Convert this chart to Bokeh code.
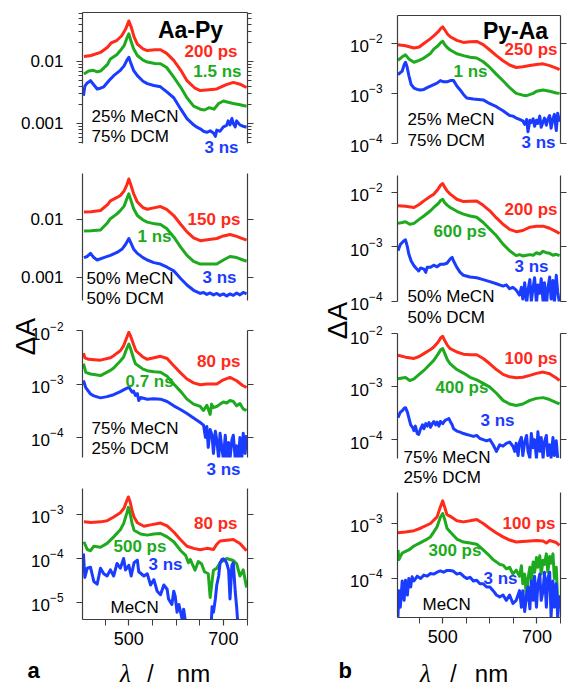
import math
from bokeh.plotting import figure
from bokeh.models import (Range1d, FixedTicker, LogAxis, LinearAxis, Label,
                          CustomJSTickFormatter, GridBox, Spacer)
from bokeh.layouts import row, column
from bokeh.embed import file_html
from bokeh.resources import INLINE

# ---------------- data: (wavelength nm, delta A) ----------------
# Aa-Py, 25% MeCN / 75% DCM
a1_200ps = [(405,0.012),(420,0.0125),(440,0.014),(455,0.017),(463,0.020),(475,0.022),(485,0.026),(493,0.033),(500,0.045),(505,0.036),(511,0.025),(518,0.019),(530,0.016),(539,0.015),(555,0.0155),(567,0.0155),(580,0.0135),(595,0.0104),(610,0.0072),(623,0.0049),(640,0.0037),(651,0.0034),(670,0.0035),(686,0.0036),(705,0.0042),(721,0.0046),(735,0.0043),(749,0.0038)]
a1_1p5ns = [(405,0.0063),(415,0.0070),(425,0.0072),(433,0.0068),(440,0.0070),(455,0.0090),(461,0.011),(475,0.013),(482,0.015),(490,0.018),(496,0.024),(500,0.028),(504,0.022),(510,0.016),(518,0.0125),(530,0.0105),(539,0.0098),(555,0.0093),(567,0.0092),(580,0.0080),(595,0.0056),(610,0.0038),(623,0.0026),(637,0.0019),(651,0.0017),(660,0.00165),(670,0.0018),(680,0.0017),(690,0.0021),(700,0.0023),(710,0.0022),(721,0.0021),(735,0.0020),(749,0.0019)]
a1_3ns = [(404,0.0028),(407,0.0040),(412,0.0045),(419,0.0049),(425,0.0043),(433,0.0036),(440,0.0037),(447,0.0039),(461,0.0052),(468,0.0059),(482,0.0072),(490,0.0085),(496,0.0105),(500,0.0117),(504,0.0095),(510,0.0072),(518,0.0059),(530,0.0048),(539,0.0044),(553,0.0041),(567,0.0039),(581,0.0032),(595,0.0026),(610,0.0017),(623,0.0012),(637,0.00095),(644,0.00087),(651,0.00082),(658,0.00075),(665,0.00072),(672,0.00076),(679,0.00070),(683,0.00062),(686,0.00078),(693,0.00075),(700,0.00088),(707,0.00093),(710,0.0011),(714,0.00095),(718,0.0012),(721,0.0010),(725,0.00088),(728,0.0011),(735,0.00095),(742,0.00090),(749,0.00087)]
# Aa-Py, 50% MeCN / 50% DCM
a2_150ps = [(405,0.0134),(420,0.0136),(440,0.0143),(455,0.018),(461,0.021),(475,0.024),(482,0.026),(490,0.031),(496,0.040),(500,0.050),(504,0.040),(510,0.028),(518,0.020),(530,0.016),(539,0.015),(555,0.016),(567,0.0167),(580,0.015),(595,0.0117),(610,0.0082),(623,0.0061),(637,0.0048),(651,0.0043),(670,0.0045),(686,0.0047),(700,0.0052),(714,0.0055),(728,0.0051),(749,0.0044)]
a2_1ns = [(405,0.0063),(420,0.0064),(440,0.0066),(455,0.0088),(461,0.0103),(475,0.0125),(482,0.0142),(490,0.017),(496,0.023),(500,0.0276),(504,0.022),(510,0.0155),(518,0.0117),(530,0.0098),(539,0.0090),(555,0.0084),(567,0.0082),(580,0.0070),(595,0.0050),(610,0.0033),(623,0.0024),(637,0.0019),(651,0.0017),(670,0.0017),(686,0.0017),(700,0.0020),(714,0.0023),(728,0.0022),(749,0.0019)]
a2_3ns = [(405,0.0022),(412,0.0023),(419,0.0026),(426,0.0022),(433,0.0020),(447,0.0022),(461,0.0024),(475,0.0027),(486,0.0031),(493,0.0037),(500,0.0047),(504,0.0040),(510,0.0031),(518,0.0026),(530,0.0022),(539,0.0020),(553,0.0018),(567,0.0017),(581,0.0015),(595,0.0013),(610,0.00095),(623,0.00074),(637,0.00060),(651,0.00053),(658,0.00055),(665,0.00051),(672,0.00054),(679,0.00050),(686,0.00053),(693,0.00049),(700,0.00052),(707,0.00048),(714,0.00052),(721,0.00049),(728,0.00054),(735,0.00050),(742,0.00055),(749,0.00052)]
# Aa-Py, 75% MeCN / 25% DCM
a3_80ps = [(404,0.0038),(407,0.0031),(415,0.0029),(440,0.0028),(461,0.0031),(468,0.0034),(482,0.0042),(489,0.0052),(495,0.0072),(500,0.0093),(504,0.0078),(510,0.0055),(515,0.0042),(530,0.0032),(539,0.0029),(553,0.0031),(567,0.0033),(581,0.0030),(595,0.0022),(610,0.0016),(623,0.00124),(637,0.00105),(651,0.00097),(665,0.0010),(686,0.0010),(700,0.0012),(714,0.00133),(728,0.00115),(740,0.00095),(749,0.00086)]
a3_0p7ns = [(404,0.0024),(409,0.00165),(419,0.00154),(440,0.00144),(461,0.0018),(468,0.0020),(482,0.0027),(489,0.0032),(495,0.0045),(500,0.0056),(504,0.0045),(510,0.0030),(514,0.0024),(530,0.0019),(539,0.00178),(553,0.0017),(567,0.00166),(581,0.0014),(595,0.0010),(610,0.00072),(623,0.00052),(637,0.00042),(651,0.00038),(658,0.00032),(665,0.00040),(672,0.00027),(675,0.00042),(679,0.00036),(686,0.00038),(693,0.00042),(700,0.00046),(707,0.00044),(714,0.00049),(721,0.00047),(728,0.00039),(735,0.00043),(742,0.00034),(749,0.00032)]
a3_3ns = [(404,0.00116),(409,0.00085),(419,0.00065),(426,0.00060),(440,0.00055),(454,0.00058),(468,0.00063),(482,0.00072),(493,0.00081),(500,0.00087),(503,0.00080),(507,0.00070),(510,0.00074),(514,0.00061),(518,0.00066),(521,0.00049),(525,0.00056),(539,0.00052),(553,0.00053),(567,0.00052),(581,0.00047),(595,0.00039),(610,0.00033),(623,0.00028),(637,0.00023),(651,0.00019),(658,0.00017),(662,0.00010),(665,0.00016),(668,0.000065),(672,0.00014),(676,0.00011),(679,0.00005),(683,0.00013),(686,0.00009),(690,0.00004),(693,0.00012),(697,0.00006),(700,0.00004),(704,0.00011),(707,0.00004),(711,0.00008),(714,0.00004),(718,0.00009),(721,0.00011),(725,0.00004),(728,0.00007),(732,0.00004),(735,0.00010),(739,0.00004),(742,0.00012),(746,0.00005),(749,0.00011)]
# Aa-Py, MeCN
a4_80ps = [(405,0.00068),(420,0.00066),(440,0.00068),(454,0.00072),(468,0.00088),(482,0.0011),(490,0.0014),(496,0.0021),(499,0.0025),(503,0.0019),(507,0.0012),(511,0.00088),(518,0.00065),(532,0.00054),(546,0.00058),(567,0.00064),(581,0.00055),(595,0.00040),(609,0.00027),(623,0.00019),(637,0.00017),(651,0.000158),(665,0.00017),(679,0.00016),(686,0.00021),(693,0.00025),(707,0.00026),(721,0.00027),(735,0.00022),(749,0.00015)]
a4_500ps = [(405,0.00024),(412,0.00016),(419,0.00015),(426,0.00019),(440,0.00018),(454,0.00022),(468,0.00031),(482,0.00045),(489,0.00062),(496,0.0011),(499,0.00145),(503,0.0010),(507,0.00062),(511,0.00044),(525,0.00036),(539,0.00034),(553,0.00036),(567,0.00037),(581,0.00031),(595,0.00024),(610,0.00015),(620,0.000118),(626,0.00008),(630,0.000095),(640,0.000054),(647,0.000085),(654,0.000075),(660,0.00005),(668,0.000045),(672,0.000013),(676,0.00003),(679,0.000054),(686,0.00006),(693,0.00008),(700,0.00009),(707,0.0001),(714,0.000095),(721,0.00009),(728,0.000076),(735,0.00004),(742,0.000055),(749,0.000022)]
a4_3ns = [(404,0.00013),(407,0.000037),(412,0.00006),(419,0.000063),(426,0.00003),(433,0.000026),(440,0.00006),(447,0.000045),(454,0.00004),(461,0.000055),(468,0.00004),(475,0.000077),(482,0.00006),(489,0.0001),(493,0.000055),(500,0.00007),(505,0.00004),(511,0.00008),(518,0.000092),(521,0.00005),(532,0.00004),(539,0.000045),(546,0.000025),(553,0.000033),(560,0.000018),(567,0.000015),(574,0.000025),(581,0.00002),(584,0.000012),(591,0.000009),(595,0.000018),(598,0.000014),(602,0.000006),(606,0.000009),(613,0.000004),(616,0.000007),(620,0.0000035),(624,0.000002),(640,0.000001),(660,0.000001),(672,0.000001),(676,0.000008),(679,0.000006),(683,0.000012),(686,0.000025),(690,0.00004),(693,0.00008),(697,0.000095),(700,0.000098),(704,0.00009),(707,0.000078),(711,0.000055),(714,0.000012),(718,0.00007),(721,0.00008),(725,0.000018),(728,0.000008),(732,0.000002)]
# Py-Aa, 25% MeCN / 75% DCM
b1_250ps = [(405,0.0094),(421,0.0090),(439,0.0081),(450,0.0085),(460,0.010),(474,0.0125),(481,0.0142),(490,0.017),(496,0.020),(500,0.0215),(504,0.019),(510,0.0155),(516,0.0136),(530,0.0115),(544,0.0105),(558,0.0108),(572,0.0110),(586,0.0095),(600,0.0074),(614,0.0057),(628,0.0045),(642,0.0037),(656,0.0033),(670,0.0034),(685,0.0036),(699,0.0038),(713,0.0039),(727,0.0036),(741,0.0032),(748,0.0030)]
b1_1ns = [(405,0.0046),(414,0.0054),(421,0.0059),(428,0.0049),(439,0.0042),(450,0.0046),(460,0.0051),(474,0.0063),(481,0.0077),(490,0.0090),(496,0.0105),(500,0.011),(504,0.0095),(510,0.0082),(516,0.0074),(530,0.0062),(544,0.0057),(558,0.0053),(572,0.0051),(586,0.0043),(600,0.0033),(614,0.0024),(628,0.00179),(642,0.0013),(656,0.0010),(670,0.00092),(678,0.00090),(692,0.0010),(699,0.0011),(713,0.00117),(727,0.0011),(741,0.00102),(748,0.0010)]
b1_3ns = [(405,0.00237),(410,0.0026),(414,0.0028),(418,0.0037),(421,0.0042),(424,0.0035),(428,0.0023),(433,0.0015),(439,0.00128),(446,0.0012),(453,0.00117),(460,0.0012),(467,0.0013),(474,0.0014),(481,0.0015),(488,0.0016),(495,0.0018),(502,0.0017),(509,0.0017),(516,0.0018),(523,0.0018),(530,0.0014),(537,0.00117),(544,0.00095),(551,0.00081),(565,0.00077),(586,0.00074),(600,0.00062),(614,0.00054),(628,0.00045),(642,0.00036),(649,0.00035),(656,0.00032),(663,0.00030),(670,0.00028),(674,0.00024),(678,0.00030),(681,0.00017),(685,0.00029),(688,0.00026),(692,0.00031),(695,0.00022),(699,0.00029),(702,0.00025),(706,0.00035),(709,0.00021),(713,0.00027),(716,0.00032),(720,0.00023),(723,0.00030),(727,0.00036),(730,0.00020),(734,0.00031),(737,0.00038),(741,0.00018),(744,0.00040),(748,0.00027)]
# Py-Aa, 50% MeCN / 50% DCM
b2_200ps = [(405,0.0057),(421,0.0056),(439,0.0053),(450,0.0060),(460,0.0070),(474,0.0085),(481,0.0093),(490,0.0115),(496,0.0138),(500,0.0146),(504,0.0125),(510,0.0105),(516,0.0093),(530,0.0075),(544,0.0068),(558,0.0069),(572,0.0070),(586,0.0058),(600,0.0046),(614,0.0034),(628,0.0026),(642,0.0021),(656,0.0019),(670,0.0020),(685,0.0023),(699,0.0024),(713,0.0024),(727,0.0022),(741,0.0019),(748,0.00176)]
b2_600ps = [(405,0.0027),(414,0.0028),(421,0.0029),(430,0.0026),(439,0.0027),(450,0.0032),(460,0.0037),(474,0.0046),(481,0.0053),(490,0.0062),(496,0.0072),(500,0.0075),(504,0.0065),(510,0.0058),(516,0.0053),(530,0.0045),(544,0.0040),(558,0.0037),(572,0.0035),(586,0.0028),(600,0.00212),(614,0.0016),(628,0.00112),(642,0.00085),(656,0.00069),(663,0.00072),(670,0.00068),(678,0.00070),(685,0.00072),(692,0.00070),(699,0.00078),(706,0.00074),(713,0.00083),(720,0.00078),(727,0.00076),(734,0.00070),(741,0.00073),(748,0.00069)]
b2_3ns = [(405,0.00085),(410,0.0011),(414,0.0012),(418,0.0013),(421,0.00135),(425,0.0010),(428,0.00074),(433,0.00055),(439,0.00045),(444,0.00040),(449,0.00036),(453,0.00041),(460,0.00039),(464,0.00034),(467,0.00042),(474,0.00042),(481,0.00046),(488,0.00043),(495,0.00048),(502,0.00048),(509,0.00050),(516,0.00060),(520,0.00064),(523,0.00055),(530,0.00042),(537,0.00034),(544,0.00030),(558,0.00028),(572,0.00027),(586,0.00025),(600,0.00023),(614,0.00021),(628,0.00019),(635,0.00020),(642,0.00017),(649,0.00018),(656,0.00016),(663,0.00013),(667,0.00018),(670,0.00011),(674,0.00022),(678,0.00009),(681,0.00016),(685,0.00025),(688,0.00010),(692,0.00018),(695,0.00027),(699,0.00009),(702,0.00020),(706,0.00014),(709,0.00026),(713,0.00010),(716,0.00022),(720,0.00008),(723,0.00017),(727,0.00028),(730,0.00011),(734,0.00024),(737,0.00009),(741,0.00030),(744,0.00015),(748,0.00009)]
# Py-Aa, 75% MeCN / 25% DCM
b3_100ps = [(405,0.0039),(421,0.0036),(439,0.0034),(450,0.0037),(460,0.0042),(474,0.0050),(481,0.0056),(490,0.0069),(496,0.0084),(500,0.0089),(504,0.0075),(510,0.0060),(516,0.0052),(530,0.0045),(544,0.0041),(558,0.0040),(572,0.0040),(586,0.0034),(600,0.0027),(614,0.0021),(628,0.00170),(642,0.00153),(656,0.00147),(670,0.00150),(685,0.00163),(699,0.00178),(713,0.00188),(727,0.00175),(741,0.00145),(748,0.00131)]
b3_400ps = [(405,0.00141),(414,0.00146),(421,0.00148),(430,0.0013),(439,0.0014),(450,0.0017),(460,0.00202),(474,0.0027),(481,0.00313),(490,0.0041),(496,0.0050),(500,0.0052),(504,0.0043),(510,0.0032),(516,0.0027),(530,0.0021),(544,0.0018),(558,0.0015),(572,0.00134),(586,0.00115),(600,0.00098),(614,0.00075),(628,0.00055),(642,0.00047),(656,0.00044),(670,0.00047),(685,0.00055),(699,0.00060),(713,0.00062),(727,0.00057),(741,0.00050),(748,0.00047)]
b3_3ns = [(405,0.00026),(410,0.00033),(414,0.00035),(418,0.00039),(421,0.00040),(425,0.00033),(428,0.00026),(432,0.00019),(436,0.00017),(439,0.000148),(442,0.00018),(446,0.00013),(449,0.000125),(453,0.00016),(457,0.00019),(460,0.00016),(464,0.00020),(467,0.00018),(471,0.00021),(474,0.00017),(478,0.00020),(481,0.00022),(485,0.00019),(488,0.000214),(492,0.00018),(495,0.00022),(500,0.00020),(505,0.00023),(509,0.00024),(513,0.00025),(516,0.00022),(520,0.00019),(523,0.00016),(530,0.000145),(537,0.000138),(544,0.00013),(551,0.000125),(558,0.00012),(565,0.000115),(572,0.00012),(579,0.000105),(586,0.0001),(593,0.000095),(600,0.0001),(607,0.00008),(614,0.00006),(621,0.00008),(628,0.000075),(635,0.000085),(642,0.00009),(649,0.000075),(653,0.00006),(656,0.000085),(660,0.00005),(663,0.00009),(667,0.00011),(670,0.00005),(674,0.00009),(678,0.00012),(681,0.00006),(685,0.000045),(688,0.00013),(692,0.00007),(695,0.00010),(699,0.000045),(702,0.00014),(706,0.00006),(709,0.00011),(713,0.000045),(716,0.00009),(720,0.00012),(723,0.00005),(727,0.00008),(730,0.000045),(734,0.00011),(737,0.00005),(741,0.000095),(744,0.000045)]
# Py-Aa, MeCN
b4_100ps = [(405,0.00068),(421,0.00070),(439,0.00074),(453,0.00082),(474,0.0010),(488,0.00132),(495,0.0020),(500,0.00258),(504,0.0020),(509,0.00145),(516,0.00135),(530,0.00112),(544,0.00107),(558,0.00112),(572,0.00118),(586,0.00100),(600,0.00081),(614,0.00067),(628,0.00057),(642,0.00050),(656,0.00046),(670,0.00047),(685,0.00048),(699,0.00049),(713,0.00048),(720,0.00044),(727,0.00049),(734,0.00047),(741,0.00045),(748,0.00040)]
b4_300ps = [(405,0.00033),(407,0.00022),(410,0.00025),(414,0.00029),(421,0.00031),(428,0.00033),(439,0.00039),(453,0.00045),(467,0.00052),(474,0.00057),(488,0.00087),(495,0.0013),(500,0.00152),(504,0.0012),(509,0.00082),(516,0.00070),(530,0.00052),(544,0.00046),(558,0.00044),(572,0.00042),(586,0.00033),(600,0.000254),(607,0.00022),(614,0.0002),(621,0.00018),(628,0.000175),(635,0.00015),(642,0.00016),(649,0.00012),(656,0.000142),(663,0.00011),(667,0.00017),(670,0.00008),(674,0.00012),(678,0.00004),(681,0.00010),(685,0.00016),(688,0.00009),(692,0.00020),(695,0.00013),(699,0.00024),(702,0.00016),(706,0.00026),(709,0.00012),(713,0.000215),(716,0.00018),(720,0.00028),(723,0.00013),(727,0.00025),(730,0.00019),(734,0.00028),(737,0.00010),(741,0.00016),(744,0.00004),(748,0.000035)]
b4_3ns = [(405,0.00002),(407,0.00006),(410,0.00003),(414,0.00009),(418,0.00004),(421,0.000093),(425,0.00005),(428,0.0001),(432,0.00007),(435,0.000107),(439,0.00009),(446,0.00011),(453,0.0001),(460,0.000115),(467,0.00011),(474,0.000123),(481,0.00012),(488,0.00013),(495,0.000137),(502,0.00013),(509,0.00014),(516,0.00014),(523,0.000135),(530,0.00012),(537,0.000125),(544,0.00011),(551,0.0001),(558,0.000105),(565,0.00009),(572,0.000093),(579,0.00008),(586,0.00008),(593,0.00007),(600,0.00007),(607,0.00006),(614,0.00005),(621,0.000046),(628,0.00005),(635,0.00004),(642,0.00005),(649,0.000035),(656,0.00004),(663,0.00006),(667,0.00003),(670,0.00006),(674,0.000025),(678,0.00005),(681,0.00007),(685,0.000028),(688,0.00009),(692,0.00004),(695,0.00011),(699,0.00003),(702,0.00008),(706,0.00012),(709,0.00004),(713,0.00006),(716,0.00013),(720,0.00003),(723,0.00010),(727,0.00013),(730,0.00002),(734,0.00009),(737,0.00003),(741,0.00008),(744,0.00002),(748,0.00005)]

# tick values
x_major = [500, 700]
x_minor = [450, 550, 600, 650, 750]
y_ticks_a12 = [0.001, 0.01]
y_ticks_a3 = [1e-4, 1e-3, 1e-2]
y_ticks_a4 = [1e-5, 1e-4, 1e-3]
y_ticks_b123 = [1e-4, 1e-3, 1e-2]
y_ticks_b4 = [1e-4, 1e-3]
y_minor_a1 = [m * 10.0 ** e for e in (-4, -3, -2) for m in range(2, 10)]

# ---------------- style ----------------
FONT = "Liberation Sans"
RED, GREEN, BLUE = "#ff2a1a", "#1eaa1e", "#1a3cff"
AXC = "#3c3c3c"
LW = 3.0
W, H = 568, 688


def style_axis(ax, size="17px", standoff=12):
    ax.axis_line_color = AXC
    ax.axis_line_width = 1.2
    ax.major_tick_line_color = AXC
    ax.minor_tick_line_color = AXC
    ax.major_tick_line_width = 1.2
    ax.minor_tick_line_width = 1.0
    ax.major_tick_in = 0
    ax.major_tick_out = 6
    ax.minor_tick_in = 0
    ax.minor_tick_out = 4
    ax.major_label_text_font = FONT
    ax.major_label_text_font_size = size
    ax.major_label_text_color = "black"
    ax.major_label_standoff = standoff


def panel(width, height, borders, xr, yr, ticks, minor=None, plain=False,
          bottom=False, top_line=False, standoff=12):
    bl, br, bt, bb = borders
    p = figure(width=width, height=height, y_axis_type="log",
               x_range=Range1d(*xr), y_range=Range1d(*yr),
               x_axis_location="below" if bottom else None,
               output_backend="svg", toolbar_location=None,
               min_border_left=bl, min_border_right=br,
               min_border_top=bt, min_border_bottom=bb)
    p.outline_line_color = None
    p.xgrid.visible = False
    p.ygrid.visible = False
    ya = p.yaxis[0]
    ya.ticker = FixedTicker(ticks=ticks, minor_ticks=minor or [])
    if plain:
        ya.formatter = CustomJSTickFormatter(code="return String(tick)")
    style_axis(ya, standoff=standoff)
    ra = LogAxis(ticker=FixedTicker(ticks=ticks, minor_ticks=minor or []),
                 formatter=CustomJSTickFormatter(code="return ''"))
    style_axis(ra, standoff=0)
    p.add_layout(ra, "right")
    if bottom:
        xa = p.xaxis[0]
        xa.ticker = FixedTicker(ticks=x_major, minor_ticks=x_minor)
        style_axis(xa, size="18px", standoff=6)
        xa.minor_tick_out = 6
    if top_line:
        ta = LinearAxis(ticker=FixedTicker(ticks=[]))
        style_axis(ta, size="0px", standoff=0)
        ta.major_tick_out = 0
        ta.minor_tick_out = 0
        p.add_layout(ta, "above")
    return p


def curves(p, series):
    for data, color in series:
        wl = [d[0] for d in data]
        da = [d[1] for d in data]
        p.line(wl, da, line_color=color, line_width=LW, line_join="round")


# transparent overlay that carries all the texts (page pixel positions)
T = figure(width=W, height=H, x_range=Range1d(0, W), y_range=Range1d(0, H),
           x_axis_location=None, y_axis_location=None,
           output_backend="svg", toolbar_location=None,
           min_border_left=0, min_border_right=0, min_border_top=0, min_border_bottom=0,
           background_fill_color=None, border_fill_color=None)
T.outline_line_color = None
T.xgrid.visible = False
T.ygrid.visible = False


def lab(x, y, text, color="black", size="17px", bold=False, align="left",
        baseline="middle", font=FONT, angle=0.0, italic=False):
    fs = "bold" if bold else ("italic" if italic else "normal")
    T.add_layout(Label(x=x, y=H - y, x_units="screen", y_units="screen",
                       text=text, text_color=color, text_font=font,
                       text_font_size=size, text_font_style=fs,
                       text_align=align, text_baseline=baseline,
                       angle=angle, angle_units="rad"))


XA = (402, 751)
XB = (404, 750)

# ---------------- left column (Aa-Py) ----------------
A1 = panel(260, 158, (82, 13, 12, 15), XA, (4.75e-4, 0.0617), y_ticks_a12,
           minor=y_minor_a1, plain=True, top_line=True, standoff=13)
curves(A1, [(a1_200ps, RED), (a1_1p5ns, GREEN), (a1_3ns, BLUE)])
lab(190, 29, "Aa-Py", size="23px", bold=True, align="center")
lab(237, 51, "200 ps", RED, bold=True, align="right")
lab(241, 71, "1.5 ns", GREEN, bold=True, align="right")
lab(238, 147, "3 ns", BLUE, bold=True, align="right")
lab(91, 116, "25% MeCN")
lab(91, 136, "75% DCM")

A2 = panel(260, 150, (82, 13, 15, 8), XA, (4.0e-4, 0.0621), y_ticks_a12,
           plain=True, standoff=13)
curves(A2, [(a2_150ps, RED), (a2_1ns, GREEN), (a2_3ns, BLUE)])
lab(240, 219, "150 ps", RED, bold=True, align="right")
lab(137, 236, "1 ns", GREEN, bold=True)
lab(236, 277, "3 ns", BLUE, bold=True, align="right")
lab(86, 278, "50% MeCN")
lab(86, 298, "50% DCM")

A3 = panel(260, 174, (82, 13, 22, 25), XA, (4.2e-5, 1.006e-2), y_ticks_a3,
           standoff=13)
curves(A3, [(a3_80ps, RED), (a3_0p7ns, GREEN), (a3_3ns, BLUE)])
lab(240, 361, "80 ps", RED, bold=True, align="right")
lab(125, 381, "0.7 ns", GREEN, bold=True)
lab(240, 469, "3 ns", BLUE, bold=True, align="right")
lab(91, 428, "75% MeCN")
lab(91, 448, "25% DCM")
lab(25, 336, "ΔA", size="28px", align="center", angle=math.pi / 2)

A4 = panel(260, 206, (82, 13, 6, 69), XA, (4.1e-6, 3.9e-3), y_ticks_a4,
           bottom=True, standoff=13)
curves(A4, [(a4_80ps, RED), (a4_500ps, GREEN), (a4_3ns, BLUE)])
lab(237, 523, "80 ps", RED, bold=True, align="right")
lab(113, 546, "500 ps", GREEN, bold=True)
lab(148, 564, "3 ns", BLUE, bold=True)
lab(110, 607, "MeCN")
lab(27, 670, "a", size="22px", bold=True)
lab(125, 673, "λ", size="25px", align="center",
    font="Liberation Serif", italic=True)
lab(150, 673, "/", size="23px", align="center")
lab(193, 673, "nm", size="24px", align="center")

col_a = column(A1, A2, A3, A4, spacing=0)

# ---------------- right column (Py-Aa) ----------------
B1 = panel(221, 158, (49, 8, 15, 15), XB, (0.99e-4, 0.0363), y_ticks_b123,
           top_line=True, standoff=9)
curves(B1, [(b1_250ps, RED), (b1_1ns, GREEN), (b1_3ns, BLUE)])
lab(515, 30, "Py-Aa", size="23px", bold=True, align="center")
lab(557, 49, "250 ps", RED, bold=True, align="right")
lab(453, 71, "1 ns", GREEN, bold=True)
lab(555, 142, "3 ns", BLUE, bold=True, align="right")
lab(407, 119, "25% MeCN")
lab(407, 140, "75% DCM")

B2 = panel(221, 167, (49, 8, 17, 24), XB, (0.99e-4, 0.0205), y_ticks_b123,
           standoff=9)
curves(B2, [(b2_200ps, RED), (b2_600ps, GREEN), (b2_3ns, BLUE)])
lab(557, 209, "200 ps", RED, bold=True, align="right")
lab(433, 231, "600 ps", GREEN, bold=True)
lab(548, 266, "3 ns", BLUE, bold=True, align="right")
lab(407, 296, "50% MeCN")
lab(407, 317, "50% DCM")
lab(337, 320, "ΔA", size="28px", align="center", angle=math.pi / 2)

B3 = panel(221, 162, (49, 8, 8, 29), XB, (4.4e-5, 1.006e-2), y_ticks_b123,
           standoff=9)
curves(B3, [(b3_100ps, RED), (b3_400ps, GREEN), (b3_3ns, BLUE)])
lab(557, 358, "100 ps", RED, bold=True, align="right")
lab(435, 387, "400 ps", GREEN, bold=True)
lab(480, 420, "3 ns", BLUE, bold=True)
lab(403, 457, "75% MeCN")
lab(403, 477, "25% DCM")

B4 = panel(221, 201, (49, 8, 5, 71), XB, (1.95e-5, 3.66e-3), y_ticks_b4,
           bottom=True, standoff=9)
curves(B4, [(b4_100ps, RED), (b4_300ps, GREEN), (b4_3ns, BLUE)])
lab(555, 523, "100 ps", RED, bold=True, align="right")
lab(428, 550, "300 ps", GREEN, bold=True)
lab(483, 578, "3 ns", BLUE, bold=True)
lab(422, 604, "MeCN")
lab(338, 670, "b", size="22px", bold=True)
lab(425, 673, "λ", size="25px", align="center",
    font="Liberation Serif", italic=True)
lab(453, 673, "/", size="23px", align="center")
lab(491, 673, "nm", size="24px", align="center")

col_b = column(B1, B2, B3, B4, spacing=0)

main = row(col_a, Spacer(width=87, height=H), col_b, spacing=0)

# the text overlay shares the same grid cell as the panels
page = GridBox(children=[(main, 0, 0), (T, 0, 0)])

open("out.html", "w").write(file_html(page, INLINE))
